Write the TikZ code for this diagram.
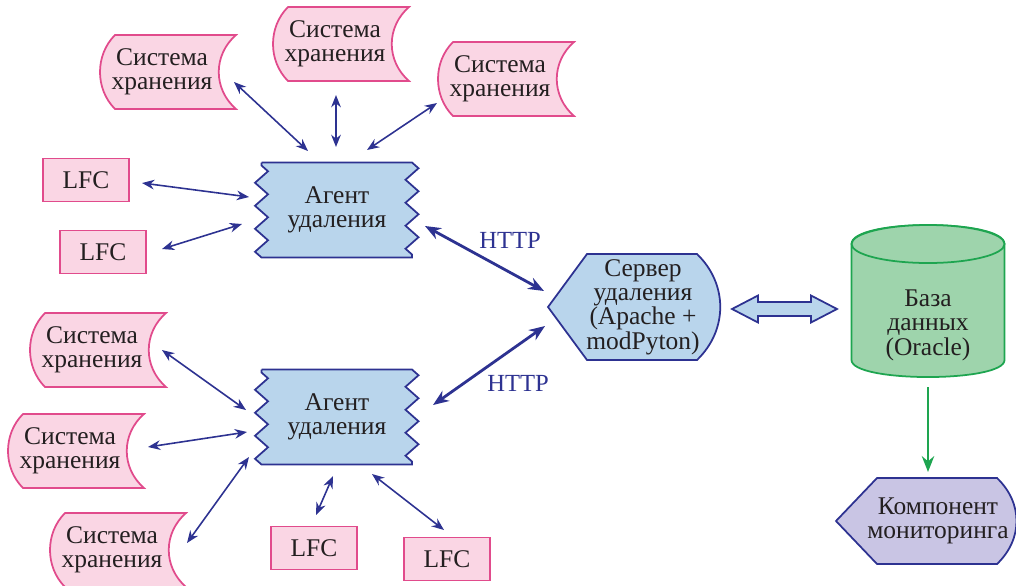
\documentclass[tikz,border=0pt]{standalone}
\usepackage{fontspec}
\setmainfont{Liberation Serif}
\usetikzlibrary{calc,arrows.meta,decorations.pathmorphing}
\definecolor{pinkfill}{RGB}{250,214,228}
\definecolor{pinkline}{RGB}{225,75,140}
\definecolor{agentfill}{RGB}{185,213,236}
\definecolor{navy}{RGB}{45,50,145}
\definecolor{dbfill}{RGB}{158,212,172}
\definecolor{dbline}{RGB}{30,165,80}
\definecolor{monfill}{RGB}{201,197,228}
\definecolor{txtgray}{RGB}{35,31,32}

\newcommand{\storagebox}[2]{%
  \draw[storeline,shift={(#2)}] (-47,-37) -- (74,-37)
    .. controls (51,-17) and (51,17) .. (74,37) -- (-47,37)
    .. controls (-67,17) and (-67,-17) .. (-47,-37) -- cycle;
  \node[txt] (#1) at (#2) {Система\\хранения};}
\newcommand{\agentbox}[2]{%
  \draw[agentline,shift={(#2)}] (-75.5,-47.5) -- (75,-47.5)
    decorate{-- (75,47.5)} -- (-75.5,47.5) decorate{-- (-75.5,-47.5)} -- cycle;
  \node[txt] (#1) at (#2) {Агент\\удаления};}
\newcommand{\lfcbox}[2]{%
  \node[txt,draw=pinkline,fill=pinkfill,line width=1pt,minimum width=86*0.02cm,minimum height=43*0.02cm] (#1) at (#2) {LFC};}

\begin{document}
\begin{tikzpicture}[x=0.02cm,y=-0.02cm,
  txt/.style={align=center,text=txtgray,inner sep=0pt,font=\fontsize{14.5}{13.9}\selectfont},
  storeline/.style={draw=pinkline,fill=pinkfill,line width=1pt},
  agentline/.style={draw=navy,fill=agentfill,line width=1pt,
    decoration={zigzag,segment length=0.46cm,amplitude=0.13cm}},
  conn/.style={navy,line width=0.9pt,{Stealth[length=7pt,width=5.5pt]}-{Stealth[length=7pt,width=5.5pt]}},
  http/.style={navy,line width=1.6pt,{Stealth[length=9pt,width=7pt]}-{Stealth[length=9pt,width=7pt]}},
  httplbl/.style={text=navy,inner sep=0pt,font=\fontsize{14}{14}\selectfont}]
\useasboundingbox (0,0) rectangle (1016,585);

\storagebox{s1}{162,72}
\storagebox{s2}{335,44}
\storagebox{s3}{500,79}
\storagebox{s4}{92,350}
\storagebox{s5}{70,451}
\storagebox{s6}{112,550}

\agentbox{ag1}{337,210}
\agentbox{ag2}{337,417}

\lfcbox{l1}{86,180}
\lfcbox{l2}{103,252}
\lfcbox{l3}{314,548}
\lfcbox{l4}{447,559}

\draw[draw=navy,fill=agentfill,line width=1pt] (548,307) -- (587,254) -- (697,254)
  .. controls (728,284) and (728,330) .. (697,360) -- (587,360) -- cycle;
\node[txt] (sv) at (643,307) {Сервер\\удаления\\(Apache +\\modPyton)};

\draw[draw=dbline,fill=dbfill,line width=1pt] (851.5,244) -- (851.5,360)
  .. controls (851.5,382.7) and (1004.5,382.7) .. (1004.5,360) -- (1004.5,244)
  .. controls (1004.5,218.7) and (851.5,218.7) .. cycle;
\draw[draw=dbline,fill=dbfill,line width=1pt] (928,244) ellipse[x radius=76.5,y radius=19];
\node[txt] (db) at (928,325) {База\\данных\\(Oracle)};

\draw[draw=navy,fill=monfill,line width=1pt] (836,521) -- (877,478) -- (997,478)
  .. controls (1023,503) and (1023,539) .. (997,564) -- (877,564) -- cycle;
\node[txt] (mon) at (938,521) {Компонент\\мониторинга};

\coordinate (da1) at ($(sv)+(89,2)$);
\coordinate (da2) at ($(db)+(-91,-16)$);
\draw[draw=navy,fill=agentfill,line width=1pt] (da1) -- ++(26,-13.5) -- ++(0,6.5)
  -- ($(da2)+(-26,-7)$) -- ++(0,-6.5) -- (da2) -- ++(-26,13.5) -- ++(0,-6.5)
  -- ($(da1)+(26,7)$) -- ++(0,6.5) -- cycle;

\draw[conn] ($(s1)+(72,10)$) -- ($(ag1)+(-29,-59)$);
\draw[conn] ($(s2)+(1,51)$) -- ($(ag1)+(-1,-63)$);
\draw[conn] ($(s3)+(-63,24)$) -- ($(ag1)+(30,-60)$);
\draw[conn] ($(l1)+(56,3)$) -- ($(ag1)+(-88,-13)$);
\draw[conn] ($(l2)+(59,-3)$) -- ($(ag1)+(-95,14)$);
\draw[conn] ($(s4)+(70,0)$) -- ($(ag2)+(-91,-7)$);
\draw[conn] ($(s5)+(78,-4)$) -- ($(ag2)+(-90,15)$);
\draw[conn] ($(s6)+(75,-7)$) -- ($(ag2)+(-88,40)$);
\draw[conn] ($(l3)+(2,-33)$) -- ($(ag2)+(-4,59)$);
\draw[conn] ($(l4)+(-3,-29)$) -- ($(ag2)+(35,57)$);

\draw[http] ($(ag1)+(88,16)$) -- ($(sv)+(-99,-16)$);
\draw[http] ($(ag2)+(96,-12)$) -- ($(sv)+(-98,19)$);
\node[httplbl] (h1) at (510,240) {HTTP};
\node[httplbl] (h2) at (518,383) {HTTP};

\draw[dbline,line width=1.5pt,-{Stealth[length=9pt,width=7pt]}] ($(db)+(0,62)$) -- ($(mon)+(-10,-49)$);
\end{tikzpicture}
\end{document}
